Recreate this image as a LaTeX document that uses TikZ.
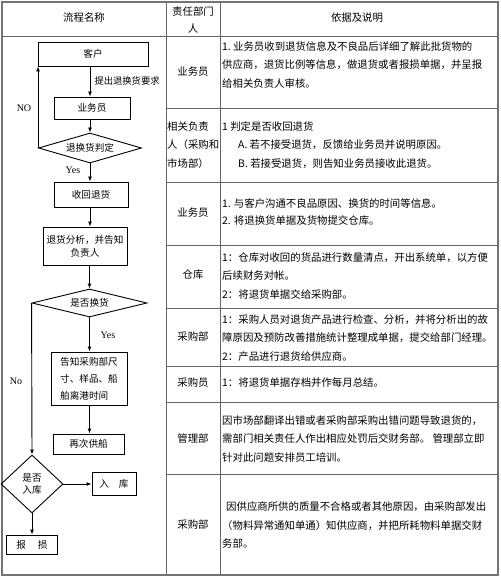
\documentclass[tikz,border=0pt]{standalone}
\usepackage{fontspec}
\setmainfont{Liberation Serif}
\newfontfamily\cjk{Noto Sans CJK SC}
\usepackage{tikz}
\usetikzlibrary{positioning,arrows.meta,shapes.geometric}

\begin{document}
\begin{tikzpicture}[
          x=1pt, y=-1pt,
          grid/.style={draw=black!60, line width=0.9pt},
          frame/.style={draw=black!55, line width=1.8pt},
          box/.style={draw, line width=0.9pt, inner sep=1pt, font=\cjk\fontsize{9.6}{13}\selectfont},
          dia/.style={draw, diamond, line width=0.9pt, inner sep=0pt, font=\cjk\fontsize{9.6}{12}\selectfont},
          arr/.style={line width=0.9pt, -{Latex[length=5pt,width=4pt]}},
          txt/.style={anchor=west, align=left, inner sep=0pt, font=\cjk\fontsize{10.4}{18.5}\selectfont},
          dept/.style={align=center, inner sep=0pt, font=\cjk\fontsize{10.4}{17}\selectfont},
          lbl/.style={font=\cjk\fontsize{9.3}{11}\selectfont},
          yn/.style={font=\fontsize{10}{12}\selectfont}
      ]
        \useasboundingbox (0,0) rectangle (500,577);
        \draw[grid] (166,2) -- (166,575);
        \draw[grid] (220,2) -- (220,575);
        \draw[grid] (2,36) -- (498,36);
        \draw[grid] (166,108) -- (498,108);
        \draw[grid] (166,182) -- (498,182);
        \draw[grid] (166,245) -- (498,245);
        \draw[grid] (166,308) -- (498,308);
        \draw[grid] (166,366) -- (498,366);
        \draw[grid] (166,402) -- (498,402);
        \draw[grid] (166,474) -- (498,474);
        \draw[frame] (2,2) rectangle (498,575);
        \node[dept] (hflow) at (84,18) {流程名称};
        \node[dept] (hdept) at (193,20) {责任部门\\人};
        \node[dept] (hdesc) at (357,18) {依据及说明};
        \node[dept] (d1) at (193,72) {业务员};
        \node[txt] (d2) at (167,145) {相关负责\\人（采购和\\市场部）};
        \node[dept] (d3) at (193,213) {业务员};
        \node[dept] (d4) at (193,275) {仓库};
        \node[dept] (d5) at (193,337) {采购部};
        \node[dept] (d6) at (193,383) {采购员};
        \node[dept] (d7) at (193,439) {管理部};
        \node[dept] (d8) at (193,525) {采购部};
        \node[txt] (t1) at (222,65) {1.\ 业务员收到退货信息及不良品后详细了解此批货物的\\供应商，退货比例等信息，做退货或者报损单据，并呈报\\给相关负责人审核。};
        \node[txt] (t2) at (222,145) {1 判定是否收回退货\\\hspace*{16pt}A. 若不接受退货，反馈给业务员并说明原因。\\\hspace*{16pt}B. 若接受退货，则告知业务员接收此退货。};
        \node[txt, font=\cjk\fontsize{10.4}{16.5}\selectfont] (t3) at (222,212) {1. 与客户沟通不良品原因、换货的时间等信息。\\2. 将退换货单据及货物提交仓库。};
        \node[txt] (t4) at (222,276) {1：仓库对收回的货品进行数量清点，开出系统单，以方便\\后续财务对帐。\\2：将退货单据交给采购部。};
        \node[txt] (t5) at (222,338) {1：采购人员对退货产品进行检查、分析，并将分析出的故\\障原因及预防改善措施统计整理成单据，提交给部门经理。\\2：产品进行退货给供应商。};
        \node[txt] (t6) at (222,383) {1：将退货单据存档并作每月总结。};
        \node[txt] (t7) at (222,439) {因市场部翻译出错或者采购部采购出错问题导致退货的，\\需部门相关责任人作出相应处罚后交财务部。 管理部立即\\针对此问题安排员工培训。};
        \node[txt] (t8) at (222,525) {\hspace*{4pt}因供应商所供的质量不合格或者其他原因，由采购部发出\\（物料异常通知单通）知供应商，并把所耗物料单据交财\\务部。};
        \node[box, minimum width=110, minimum height=24] (kehu) at (93,54) {客户};
        \node[box, minimum width=76, minimum height=22] (ywy) at (92,108) {业务员};
        \node[dia, aspect=3.4, minimum width=103, minimum height=30] (pd) at (90,148) {退换货判定};
        \node[box, minimum width=74, minimum height=25] (sh) at (91,194.5) {收回退货};
        \node[box, minimum width=84, minimum height=38, align=center] (fx) at (85,246) {退货分析，并告知\\负责人};
        \node[dia, aspect=4, minimum width=115, minimum height=28] (hh) at (89.5,303) {是否换货};
        \node[box, minimum width=76, minimum height=53, align=left, font=\cjk\fontsize{9.6}{17}\selectfont] (gz) at (89,378.5) {告知采购部尺\\寸、样品、船\\舶离港时间};
        \node[box, minimum width=71, minimum height=20] (zc) at (88.5,444) {再次供船};
        \node[dia, aspect=1.07, minimum width=62, minimum height=58, align=center] (sfrk) at (32,484) {是否\\入库};
        \node[box, minimum width=44, minimum height=23] (rk) at (114,483.5) {入\hspace{10pt}库};
        \node[box, minimum width=51, minimum height=19] (bs) at (32,544.5) {报\hspace{12pt}损};
        \node[lbl, anchor=west] (tq) at (91,81) {提出退换货要求};
        \node[yn] (no1) at (24,108) {NO};
        \node[yn] (yes1) at (73,170) {Yes};
        \node[yn] (yes2) at (108,335) {Yes};
        \node[yn] (no2) at (16,381) {No};
        \draw[arr] (kehu.south -| pd.north) -- (ywy.north -| pd.north);
        \draw[arr] (ywy.south -| pd.north) -- (pd.north);
        \draw[arr] (pd.west) -- (pd.west |- kehu.south);
        \draw[arr] (pd.south) -- (pd.south |- sh.north);
        \draw[arr] (sh.south -| pd.south) -- (fx.north -| pd.south);
        \draw[arr] (fx.south -| hh.north) -- (hh.north);
        \draw[arr] (hh.south) -- (gz.north -| hh.south);
        \draw[arr] (gz.south -| hh.south) -- (zc.north -| hh.south);
        \draw[arr] (hh.west) -- (sfrk.north);
        \draw[arr] (sfrk.east) -- (rk.west |- sfrk.east);
        \draw[arr] (sfrk.south) -- (bs.north);
      \end{tikzpicture}
\end{document}
